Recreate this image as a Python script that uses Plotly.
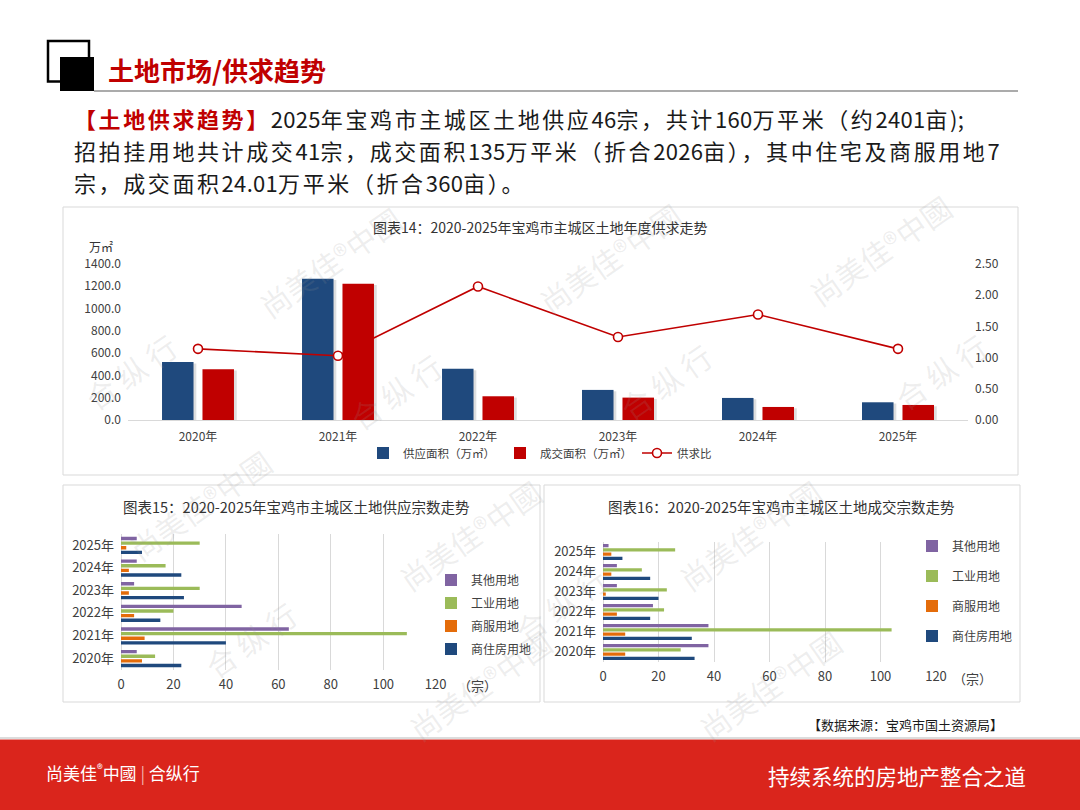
import re
import plotly.graph_objects as go

# ---------------- data ----------------
years = ["2020年", "2021年", "2022年", "2023年", "2024年", "2025年"]

supply_area = [520, 1268, 459, 270, 198, 159]      # 供应面积（万㎡）
deal_area = [456, 1223, 213, 201, 117, 135]        # 成交面积（万㎡）
ratio = [1.14, 1.03, 2.14, 1.33, 1.69, 1.14]       # 供求比

# 图表15 供应宗数
supply_res = [23, 40, 15, 24, 23, 8]     # 商住房用地
supply_com = [8, 9, 5, 3, 3, 2]          # 商服用地
supply_ind = [13, 109, 20, 30, 17, 30]   # 工业用地
supply_oth = [6, 64, 46, 5, 6, 6]        # 其他用地

# 图表16 成交宗数
deal_res = [33, 32, 17, 20, 17, 7]
deal_com = [8, 8, 5, 1, 3, 3]
deal_ind = [28, 104, 22, 23, 14, 26]
deal_oth = [38, 38, 18, 5, 5, 2]

land_names = ["其他用地", "工业用地", "商服用地", "商住房用地"]
y_ticks_left = [0, 200, 400, 600, 800, 1000, 1200, 1400]

# ---------------- helpers ----------------
W, H = 1080, 810
def px(x):
    return x / W
def py(y):
    return 1 - y / H

FONT = "Noto Sans CJK SC"
BLUE = "#1F497D"
RED = "#C00000"
C_RES = "#1F497D"
C_COM = "#E46C0A"
C_IND = "#9BBB59"
C_OTH = "#8064A2"
TXT = "#404040"
GRID = "#D9D9D9"

fig = go.Figure()

# ---------------- top chart ----------------
bw = 0.225
off_s, off_d = -0.257, 0.032
fig.add_trace(go.Bar(x=years, y=[v - 12 for v in supply_area], width=bw, offset=off_s + 0.02,
                     marker=dict(color="rgba(0,0,0,0.13)", line=dict(width=0)),
                     showlegend=False, hoverinfo="skip", xaxis="x", yaxis="y"))
fig.add_trace(go.Bar(x=years, y=[v - 12 for v in deal_area], width=bw, offset=off_d + 0.02,
                     marker=dict(color="rgba(0,0,0,0.13)", line=dict(width=0)),
                     showlegend=False, hoverinfo="skip", xaxis="x", yaxis="y"))
fig.add_trace(go.Bar(x=years, y=supply_area, width=bw, offset=off_s, name="供应面积（万㎡）",
                     marker=dict(color=BLUE, line=dict(width=0)), xaxis="x", yaxis="y", legend="legend"))
fig.add_trace(go.Bar(x=years, y=deal_area, width=bw, offset=off_d, name="成交面积（万㎡）",
                     marker=dict(color=RED, line=dict(width=0)), xaxis="x", yaxis="y", legend="legend"))
fig.add_trace(go.Scatter(x=years, y=ratio, name="供求比", mode="lines+markers",
                         line=dict(color=RED, width=1.6),
                         marker=dict(symbol="circle", size=9, color="white", line=dict(color=RED, width=1.6)),
                         xaxis="x", yaxis="y2", legend="legend"))

# ---------------- bottom charts ----------------
def add_hbars(vals_list, xa, ya, leg, offsets, width):
    colors = [C_OTH, C_IND, C_COM, C_RES]
    for name, vals, col, off in zip(land_names, vals_list, colors, offsets):
        fig.add_trace(go.Bar(y=years, x=vals, orientation="h", name=name, width=width, offset=off,
                             marker=dict(color=col, line=dict(width=0)),
                             xaxis=xa, yaxis=ya, legend=leg, legendgroup=leg + name))

add_hbars([supply_oth, supply_ind, supply_com, supply_res], "x3", "y3", "legend2",
          [0.215, 0.01, -0.195, -0.40], 0.15)
add_hbars([deal_oth, deal_ind, deal_com, deal_res], "x4", "y4", "legend3",
          [0.22, 0.01, -0.20, -0.41], 0.16)

tf12 = dict(family=FONT, size=12, color=TXT)
tf13 = dict(family=FONT, size=13, color=TXT)

layout = dict(
    autosize=True, margin=dict(l=0, r=0, t=0, b=0, autoexpand=False),
    paper_bgcolor="white", plot_bgcolor="rgba(0,0,0,0)",
    barmode="overlay", font=dict(family=FONT, color=TXT),
    xaxis=dict(domain=[px(128), px(968)], anchor="y", type="category", range=[-0.5, 5.5],
               showline=True, linecolor=GRID, linewidth=1, ticks="", showgrid=False,
               tickfont=tf12, ticklabelstandoff=6, fixedrange=True),
    yaxis=dict(domain=[py(420), py(264)], anchor="x", range=[0, 1400], tickvals=y_ticks_left,
               tickformat=".1f", showgrid=False, zeroline=False, showline=False, ticks="",
               tickfont=tf12, ticklabelstandoff=6),
    yaxis2=dict(overlaying="y", side="right", anchor="x", range=[0, 2.5], dtick=0.5,
                tickformat=".2f", showgrid=False, zeroline=False, showline=False, ticks="",
                tickfont=tf12, ticklabelstandoff=6),
    xaxis3=dict(domain=[px(121), px(435.7)], anchor="y3", range=[0, 120], dtick=20,
                showgrid=True, gridcolor=GRID, zeroline=True, zerolinecolor=GRID, zerolinewidth=1,
                ticks="", tickfont=tf13, ticklabelstandoff=5),
    yaxis3=dict(domain=[py(669.5), py(533.7)], anchor="x3", type="category", range=[-0.5, 5.5],
                showgrid=False, ticks="", tickfont=tf13, ticklabelstandoff=6),
    xaxis4=dict(domain=[px(603), px(936)], anchor="y4", range=[0, 120], dtick=20,
                showgrid=True, gridcolor=GRID, zeroline=True, zerolinecolor=GRID, zerolinewidth=1,
                ticks="", tickfont=tf13, ticklabelstandoff=5),
    yaxis4=dict(domain=[py(661.7), py(541.7)], anchor="x4", type="category", range=[-0.5, 5.5],
                showgrid=False, ticks="", tickfont=tf13, ticklabelstandoff=6),
    legend=dict(orientation="h", x=0.5, xanchor="center", y=py(453), yanchor="middle",
                font=dict(family=FONT, size=11.5, color=TXT), bgcolor="rgba(0,0,0,0)", itemwidth=30),
    legend2=dict(x=px(431), xanchor="left", y=py(614.5), yanchor="middle", traceorder="grouped",
                 tracegroupgap=4, font=dict(family=FONT, size=12, color=TXT), bgcolor="rgba(0,0,0,0)"),
    legend3=dict(x=px(912), xanchor="left", y=py(591), yanchor="middle", traceorder="grouped",
                 tracegroupgap=11, font=dict(family=FONT, size=12, color=TXT), bgcolor="white"),
    showlegend=True,
)
fig.update_layout(**layout)

# ---------------- shapes ----------------
shapes = []
for (x0, y0, x1, y1) in [(63, 207, 1018, 475), (63, 485, 540, 702), (544, 485, 1020, 702)]:
    shapes.append(dict(type="rect", xref="paper", yref="paper", x0=px(x0), x1=px(x1), y0=py(y0), y1=py(y1),
                       line=dict(color=GRID, width=1), fillcolor="white", layer="below"))
shapes.append(dict(type="rect", xref="paper", yref="paper", x0=px(48), x1=px(89), y0=py(41), y1=py(81.5),
                   line=dict(color="black", width=2.5), fillcolor="white", layer="below"))
shapes.append(dict(type="rect", xref="paper", yref="paper", x0=px(60), x1=px(94), y0=py(57), y1=py(91),
                   line=dict(color="black", width=0), fillcolor="black", layer="below"))
shapes.append(dict(type="line", xref="paper", yref="paper", x0=px(94), x1=px(1018), y0=py(91), y1=py(91),
                   line=dict(color="#595959", width=1.2), layer="below"))
shapes.append(dict(type="line", xref="paper", yref="paper", x0=0, x1=1, y0=py(738), y1=py(738),
                   line=dict(color="#D0D0D0", width=1.5), layer="below"))
shapes.append(dict(type="rect", xref="paper", yref="paper", x0=0, x1=1, y0=0, y1=py(739.5),
                   line=dict(width=0), fillcolor="#DA251C", layer="below"))
fig.update_layout(shapes=shapes)

# ---------------- annotations ----------------
ann = []
def A(x, y, text, size, color=TXT, xanchor="left", yanchor="middle", **kw):
    d = dict(xref="paper", yref="paper", x=px(x), y=py(y), text=text, showarrow=False,
             xanchor=xanchor, yanchor=yanchor, font=dict(family=FONT, size=size, color=color))
    d.update(kw)
    ann.append(d)

# watermarks (faint)
wm_color = "rgba(150,150,150,0.16)"
for (x, y) in [(330, 262), (610, 258), (880, 250), (200, 505), (470, 535),
               (750, 535), (480, 685), (770, 685)]:
    A(x, y, "尚美佳®中國", 30, wm_color, xanchor="center", textangle=-35)
for (x, y) in [(130, 372), (395, 392), (665, 382), (940, 372), (250, 640), (560, 605)]:
    A(x, y, "合 纵 行", 30, wm_color, xanchor="center", textangle=-35)

# header title & body
A(106, 70, "<b>土地市场/供求趋势</b>", 26, RED)

def tight_digits(s):
    return re.sub(r"([0-9.();]+)", r"<span style='letter-spacing:0.3px'>\1</span>", s)

LS = "<span style='letter-spacing:2.6px'>{}</span>"
body_lines = [
    "<span style='color:#C00000'><b>【土地供求趋势】</b></span>"
    + tight_digits("2025年宝鸡市主城区土地供应46宗，共计160万平米（约2401亩);"),
    tight_digits("招拍挂用地共计成交41宗，成交面积135万平米（折合2026亩），其中住宅及商服用地7"),
    tight_digits("宗，成交面积24.01万平米（折合360亩）。"),
]
for yy, line in zip([118, 150, 182], body_lines):
    A(73, yy, LS.format(line), 22, "#1A1A1A", borderpad=0)

# chart titles / units
A(540, 227, "图表14：2020-2025年宝鸡市主城区土地年度供求走势", 14, "#333333", xanchor="center")
A(87, 246, "万㎡", 12, "#333333")
A(296, 507, "图表15：2020-2025年宝鸡市主城区土地供应宗数走势", 14.5, "#333333", xanchor="center")
A(781, 507, "图表16：2020-2025年宝鸡市主城区土地成交宗数走势", 14.5, "#333333", xanchor="center")
A(456, 685, "（宗）", 13, TXT)
A(951, 678, "（宗）", 13, TXT)

# source & footer
A(1005, 724, "【数据来源：宝鸡市国土资源局】", 13, "#1A1A1A", xanchor="right")
A(44, 772, "尚美佳<sup>®</sup>中國 <span style='color:#F3B3AE'>|</span> 合纵行", 17, "white")
A(1028, 775, "持续系统的房地产整合之道", 21.5, "white", xanchor="right")

fig.update_layout(annotations=ann)

page_fix = (
    "var gd=document.getElementById('{plot_id}');"
    "document.documentElement.style.margin='0';document.documentElement.style.padding='0';"
    "document.body.style.margin='0';document.body.style.padding='0';"
    "document.documentElement.style.overflow='hidden';document.body.style.overflow='hidden';"
    "gd.style.display='block';"
    "if(gd.parentElement){gd.parentElement.style.display='block';}"
    "Plotly.Plots.resize(gd);"
)
fig.write_html("out.html", config={"displayModeBar": False, "responsive": True},
               default_width="100vw", default_height="100vh", post_script=page_fix)
